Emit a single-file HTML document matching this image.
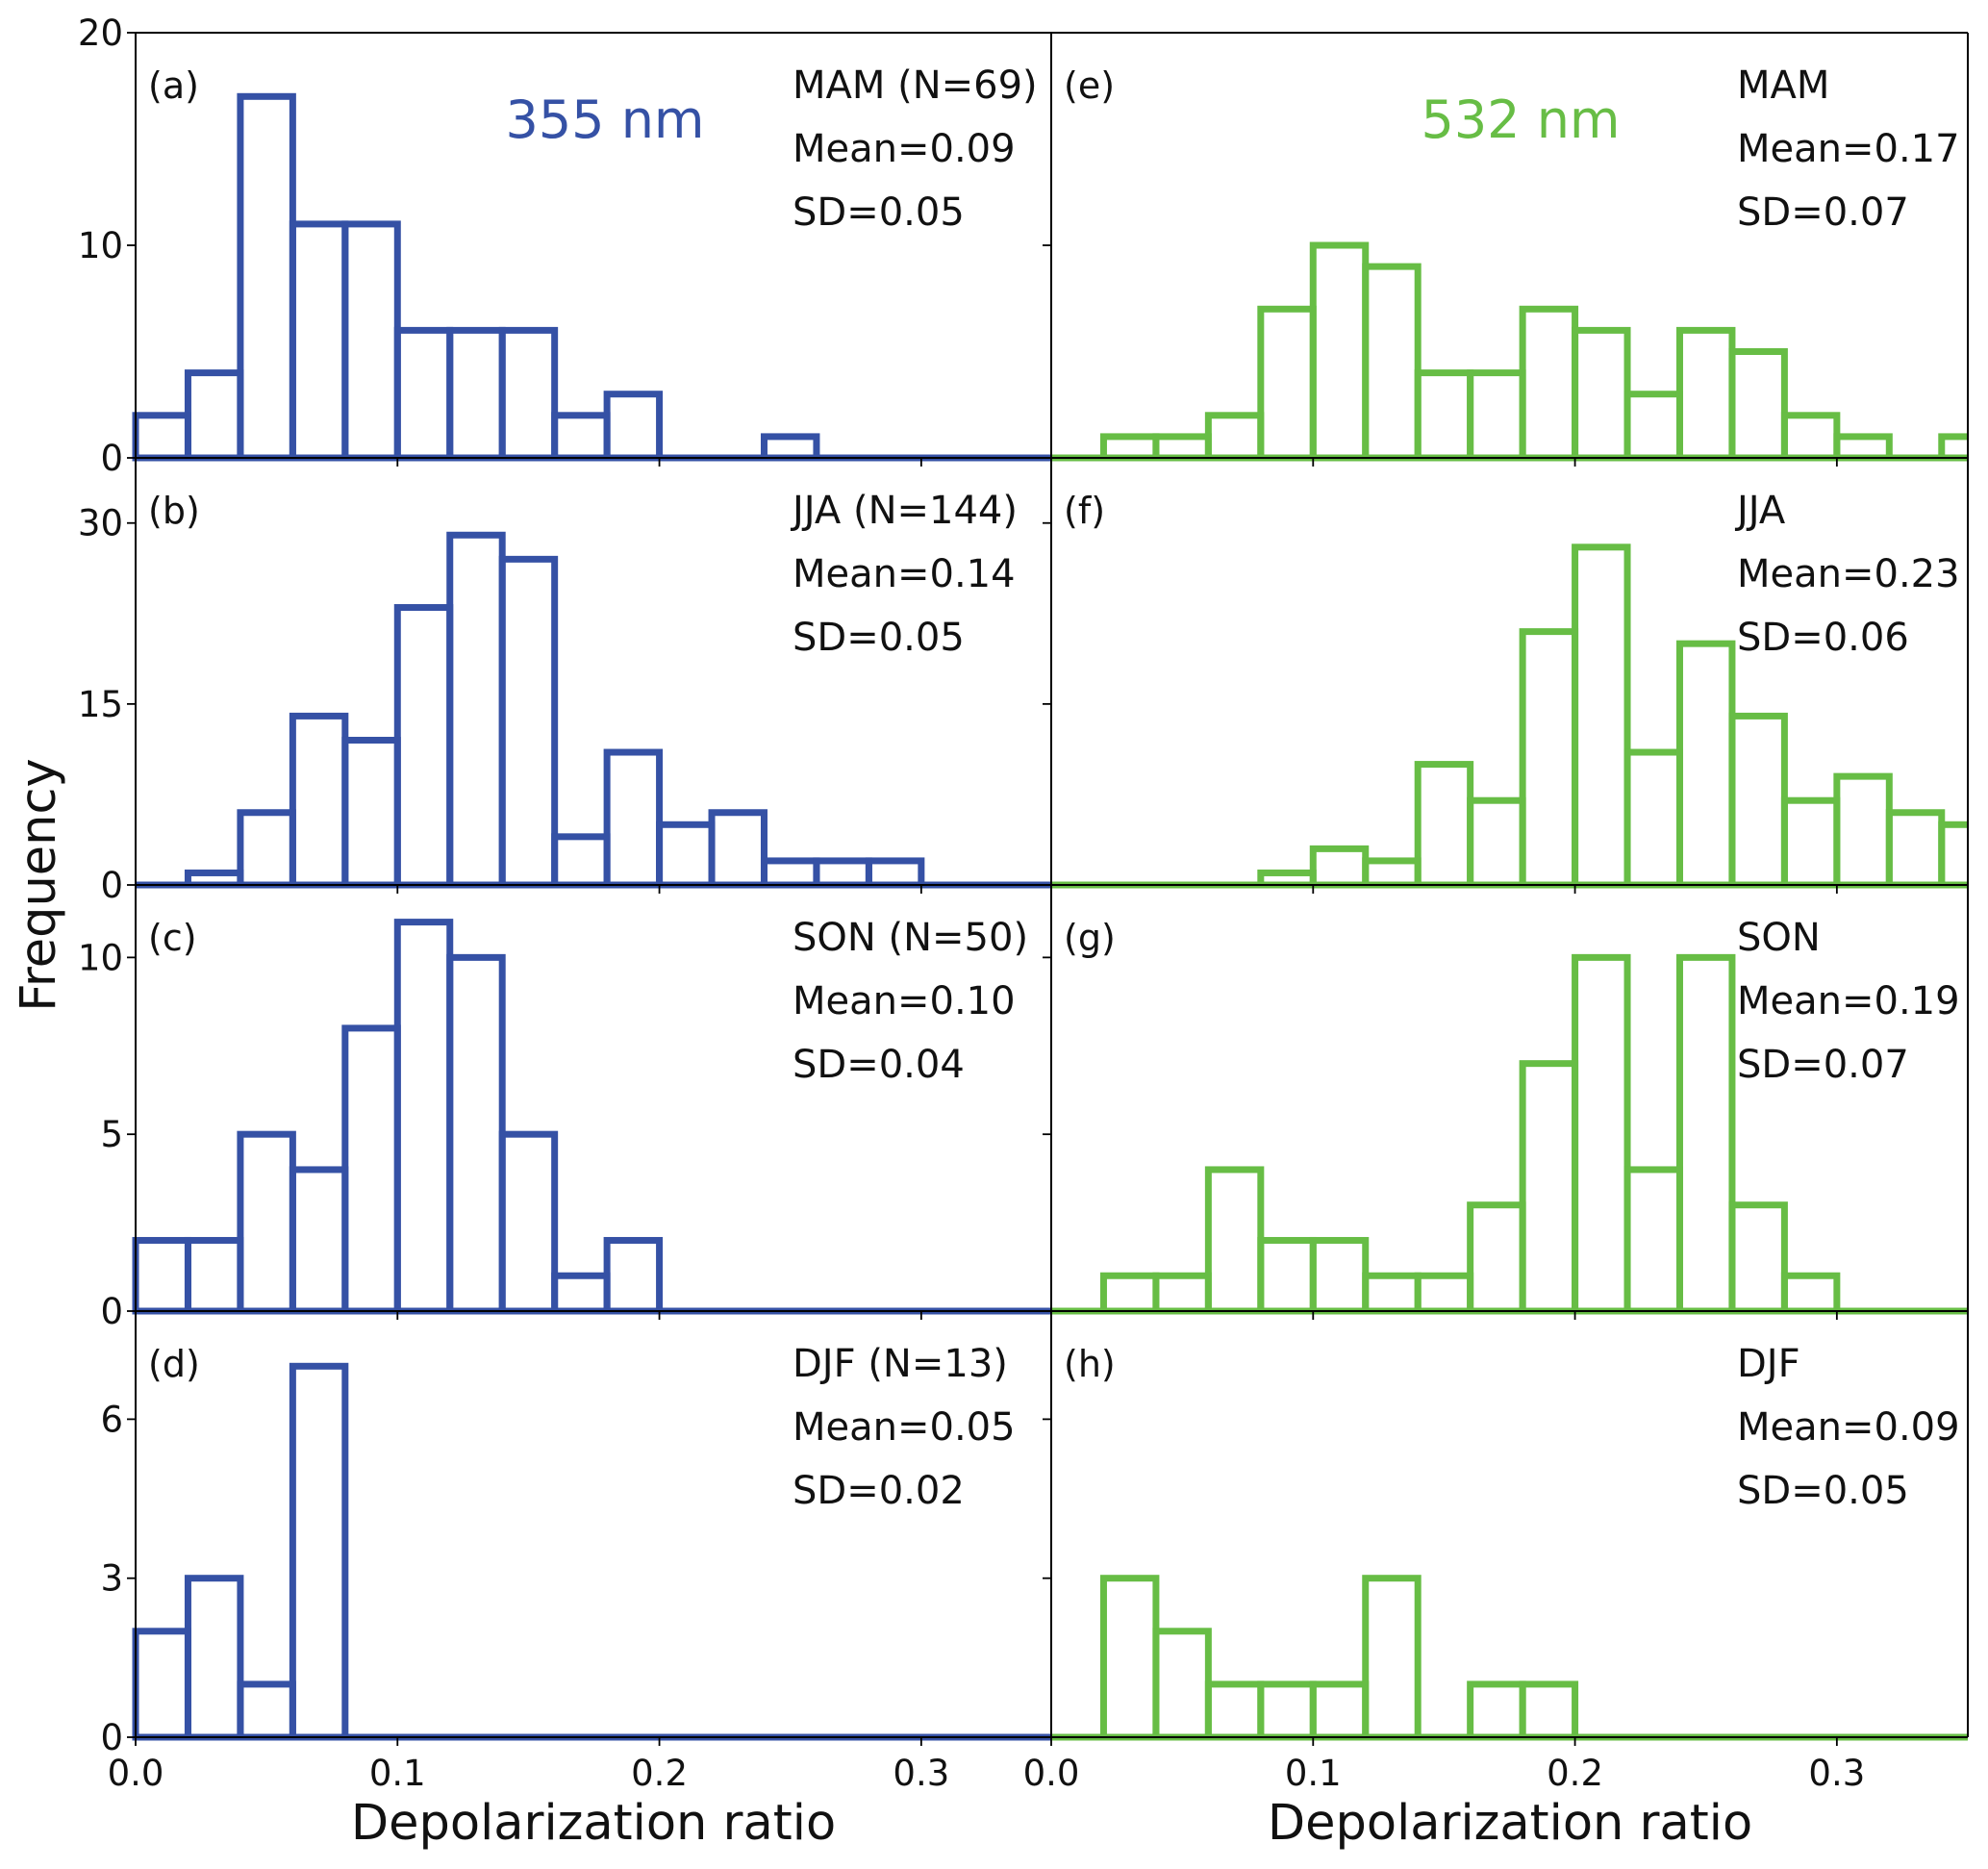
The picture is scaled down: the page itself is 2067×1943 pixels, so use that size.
<!DOCTYPE html>
<html><head><meta charset="utf-8"><style>
html,body{margin:0;padding:0;background:#fff}
svg{display:block;font-family:"DejaVu Sans","Liberation Sans",sans-serif}
</style></head><body>
<svg id="fig" width="2067" height="1943" viewBox="0 0 2067 1943" xmlns="http://www.w3.org/2000/svg"></svg>
<script>
const binWidth = 0.02;
const countsA = [2,4,17,11,11,6,6,6,2,3,0,0,1,0,0,0,0,0];
const countsB = [0,1,6,14,12,23,29,27,4,11,5,6,2,2,2,0,0,0];
const countsC = [2,2,5,4,8,11,10,5,1,2,0,0,0,0,0,0,0,0];
const countsD = [2,3,1,7,0,0,0,0,0,0,0,0,0,0,0,0,0,0];
const countsE = [0,1,1,2,7,10,9,4,4,7,6,3,6,5,2,1,0,1];
const countsF = [0,0,0,0,1,3,2,10,7,21,28,11,20,14,7,9,6,5];
const countsG = [0,1,1,4,2,2,1,1,3,7,10,4,10,3,1,0,0,0];
const countsH = [0,3,2,1,1,1,3,0,1,1,0,0,0,0,0,0,0,0];
const rowYMax = [20,35.4,12.05,8.04];
const rowYTicks = [[0,10,20],[0,15,30],[0,5,10],[0,3,6]];
const xTicks = [0.0,0.1,0.2,0.3];
const xTickLabels = ["0.0","0.1","0.2","0.3"];
const panelLetters = ["(a)","(b)","(c)","(d)","(e)","(f)","(g)","(h)"];
const seasonLeft = ["MAM (N=69)","JJA (N=144)","SON (N=50)","DJF (N=13)"];
const seasonRight = ["MAM","JJA","SON","DJF"];
const meansLeft = ["Mean=0.09","Mean=0.14","Mean=0.10","Mean=0.05"];
const meansRight = ["Mean=0.17","Mean=0.23","Mean=0.19","Mean=0.09"];
const sdLeft = ["SD=0.05","SD=0.05","SD=0.04","SD=0.02"];
const sdRight = ["SD=0.07","SD=0.06","SD=0.07","SD=0.05"];

const NS="http://www.w3.org/2000/svg";
const svg=document.getElementById('fig');
const colX=[141,1093]; const colW=953;
const rowY=[34,476,920,1363,1806];
const XMAX=0.35;
const blue="#3551a5", green="#67bd45";
function mk(tag,attrs,parent){const e=document.createElementNS(NS,tag);for(const k in attrs)e.setAttribute(k,attrs[k]);(parent||svg).appendChild(e);return e;}
function txt(s,attrs,parent){const e=mk('text',attrs,parent);e.textContent=s;return e;}

const allCounts=[[countsA,countsB,countsC,countsD],[countsE,countsF,countsG,countsH]];
const defs=mk('defs',{});
for(let c=0;c<2;c++){
  for(let r=0;r<4;r++){
    const x0=colX[c], y0=rowY[r], y1=rowY[r+1], h=y1-y0;
    const xs=v=>x0+v/XMAX*colW;
    const ys=v=>y1-v/rowYMax[r]*h;
    const color=c===0?blue:green;
    const cid='clip'+c+r;
    const cp=mk('clipPath',{id:cid},defs);
    mk('rect',{x:x0-4,y:y0,width:colW+4,height:h+5},cp);
    const g=mk('g',{'clip-path':'url(#'+cid+')'});
    
    
    const counts=allCounts[c][r];
    counts.forEach((v,i)=>{
      if(v<=0)return;
      const bx=xs(i*binWidth), bw=xs((i+1)*binWidth)-bx;
      const rect=mk('rect',{x:bx,y:ys(v),width:bw,height:ys(0)-ys(v),fill:'none',stroke:color,'stroke-width':7},g);
      
      
    });
    const base=mk('line',{x1:x0,x2:x0+colW,y1:ys(0),y2:ys(0),stroke:color,'stroke-width':7},g);
    
    
    rowYTicks[r].forEach(t=>{
      const ty=ys(t);
      mk('line',{x1:x0-9,x2:x0,y1:ty,y2:ty,stroke:'#000','stroke-width':1.8});
      if(c===0){
        const lb=txt(String(t),{x:x0-13,y:ty+13,'text-anchor':'end','font-size':37,fill:'#111'});
        
        
      }
    });
    xTicks.forEach((t,i)=>{
      const tx=xs(t);
      mk('line',{x1:tx,x2:tx,y1:y1,y2:y1+9,stroke:'#000','stroke-width':1.8});
      if(r===3){
        const lb=txt(xTickLabels[i],{x:tx,y:1856,'text-anchor':'middle','font-size':37,fill:'#111'});
        
        
      }
    });
    const pl=txt(panelLetters[c*4+r],{x:x0+13,y:y0+68,'font-size':38,fill:'#111'});
    
    
    const tx=c===0?824:1806;
    const s1=txt(c===0?seasonLeft[r]:seasonRight[r],{x:tx,y:y0+68,'font-size':40,fill:'#111'});
    
    
    const s2=txt(c===0?meansLeft[r]:meansRight[r],{x:tx,y:y0+134,'font-size':40,fill:'#111'});
    
    
    const s3=txt(c===0?sdLeft[r]:sdRight[r],{x:tx,y:y0+200,'font-size':40,fill:'#111'});
    
    
  }
}
rowY.forEach(y=>mk('line',{x1:141,x2:2046,y1:y,y2:y,stroke:'#000','stroke-width':2}));
[141,1093,2046].forEach(x=>mk('line',{x1:x,x2:x,y1:34,y2:1806,stroke:'#000','stroke-width':2}));
const w1=txt("355 nm",{x:629,y:143,'text-anchor':'middle','font-size':54,fill:blue});


const w2=txt("532 nm",{x:1581,y:143,'text-anchor':'middle','font-size':54,fill:green});


const xl1=txt("Depolarization ratio",{x:617,y:1912,'text-anchor':'middle','font-size':51,fill:'#111'});


const xl2=txt("Depolarization ratio",{x:1570,y:1912,'text-anchor':'middle','font-size':51,fill:'#111'});


const yl=txt("Frequency",{x:0,y:0,'text-anchor':'middle','font-size':51,fill:'#111',transform:'translate(57,920) rotate(-90)'});


</script>
</body></html>
